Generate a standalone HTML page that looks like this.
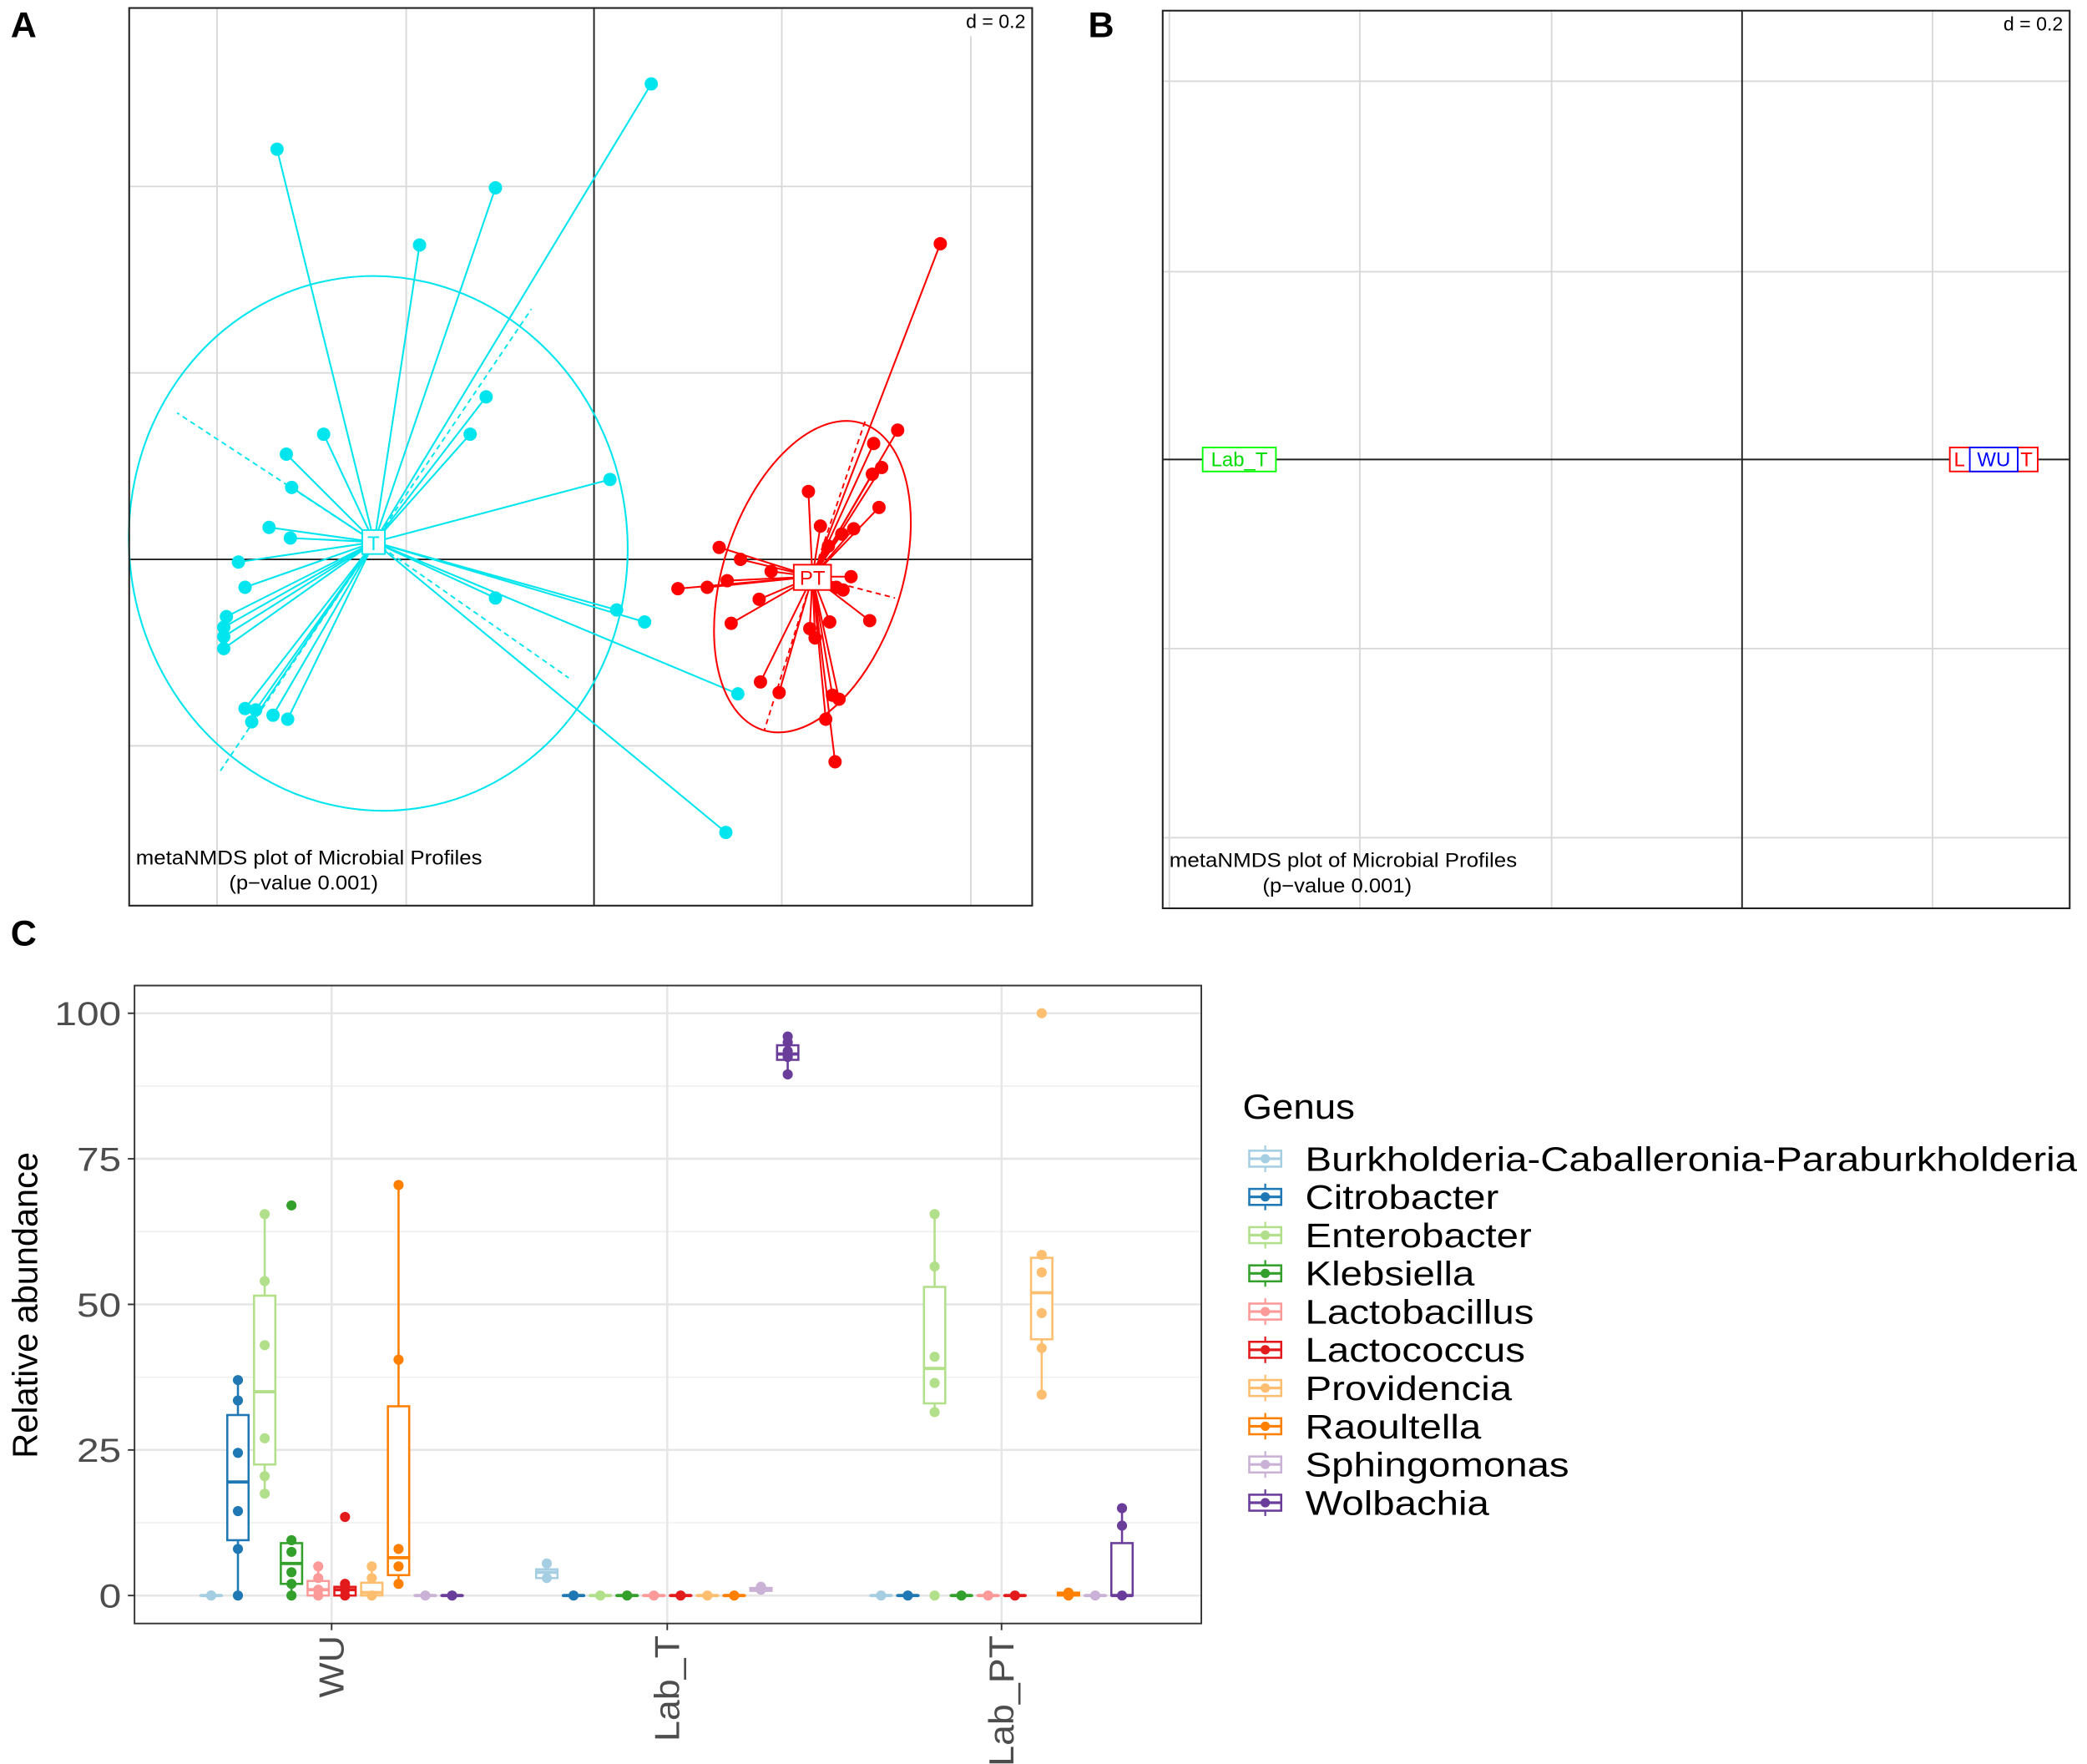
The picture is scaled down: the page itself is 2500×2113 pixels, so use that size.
<!DOCTYPE html>
<html><head><meta charset="utf-8"><style>
html,body{margin:0;padding:0;background:#fff;}
svg{display:block;font-family:"Liberation Sans",sans-serif;}
</style></head><body>
<svg id="fig" width="2500" height="2113" viewBox="0 0 1567 1324.5" preserveAspectRatio="none" xmlns="http://www.w3.org/2000/svg">
<text x="8" y="28" font-size="27" font-weight="bold">A</text>
<text x="817" y="28" font-size="27" font-weight="bold">B</text>
<text x="8" y="710" font-size="27" font-weight="bold">C</text>
<g id="pa"></g>
<g id="pb"></g>
<g id="pc"></g>
</svg>
<script>
// ---- Panel A data (display coords of ordination) ----
const cyanPts = [[489,63],[208,112],[372,141],[315,184],[365,298],[353,326],[243,326],[215,341],[219,366],[458,360],[202,396],[218,404],[179,422],[184,441],[372,449],[463,458],[484,467],[170,463],[168,471],[168,478],[168,487],[554,521],[184,532],[192,533],[189,542],[205,537],[216,540],[545,625]];
const cyanCentroid = [281,407];
const redPts = [[706,183],[674,323],[656,333],[662,351],[655,356],[641,397],[660,381],[632,401],[607,369],[622,410],[540,411],[556,420],[546,436],[509,442],[531,441],[579,429],[639,433],[628,441],[570,450],[549,468],[653,466],[623,467],[608,472],[612,479],[571,512],[585,520],[625,522],[630,525],[620,540],[627,572],[633,443],[616,395]];
const redCentroid = [610,433];

// ---- Panel C data ----
const genera = ["Burkholderia-Caballeronia-Paraburkholderia","Citrobacter","Enterobacter","Klebsiella","Lactobacillus","Lactococcus","Providencia","Raoultella","Sphingomonas","Wolbachia"];
const groups = ["WU","Lab_T","Lab_PT"];
const yTicks = [0,25,50,75,100];
// stats per group per genus: [whiskerLo, q1, median, q3, whiskerHi]
const statsWU = [[0,0,0,0,0],[0,9.5,19.5,31,37],[17.5,22.5,35,51.5,65.5],[0,2,5.5,9,9.5],[0,0,1,2.5,5],[0,0,1,1.5,2],[0,0,0.5,2.2,5],[2,3.5,6.5,32.5,70.5],[0,0,0,0,0],[0,0,0,0,0]];
const statsLabT = [[2.5,3,4,4.5,5.8],[0,0,0,0,0],[0,0,0,0,0],[0,0,0,0,0],[0,0,0,0,0],[0,0,0,0,0],[0,0,0,0,0],[0,0,0,0,0],[0.5,0.8,1,1.3,2],[89.5,92,93,94.5,96]];
const statsLabPT = [[0,0,0,0,0],[0,0,0,0,0],[31.5,33,39,53,65.5],[0,0,0,0,0],[0,0,0,0,0],[0,0,0,0,0],[34.5,44,52,58,58.5],[0,0,0.3,0.5,1],[0,0,0,0,0],[0,0,0,9,15]];
const ptsWU = [[0,0],[0,8,14.5,24.5,33.5,37],[17.5,20.5,27,43,54,65.5],[0,2,4,7.5,9.5,67],[0,1,3,5],[0,1,2,13.5],[0,3,5],[2,5,8,40.5,70.5],[0],[0]];
const ptsLabT = [[3,5.5],[0],[0],[0],[0],[0],[0],[0],[1,1.5],[89.5,92.5,93.5,95,96]];
const ptsLabPT = [[0],[0],[0,31.5,36.5,41,56.5,65.5],[0],[0],[0],[34.5,42.5,48.5,55.5,58.5,100],[0,0.5],[0],[0,12,15]];
const colors = ["#A6CEE3","#1F78B4","#B2DF8A","#33A02C","#FB9A99","#E31A1C","#FDBF6F","#FF7F00","#CAB2D6","#6A3D9A"];

const NS="http://www.w3.org/2000/svg";
function mk(parent,tag,attrs,text){const e=document.createElementNS(NS,tag);for(const k in attrs)e.setAttribute(k,attrs[k]);if(text!==undefined)e.textContent=text;parent.appendChild(e);return e;}

// ---------- Panel A ----------
const pa=document.getElementById('pa');
[163,305,587,729].forEach(x=>{const l=mk(pa,'line',{x1:x,y1:6,x2:x,y2:680,stroke:'#d9d9d9','stroke-width':1.2});});
[140,280,560].forEach(y=>{const l=mk(pa,'line',{x1:97,y1:y,x2:775,y2:y,stroke:'#d9d9d9','stroke-width':1.2});});
mk(pa,'line',{x1:446,y1:6,x2:446,y2:680,stroke:'#222','stroke-width':1.2});
mk(pa,'line',{x1:97,y1:420,x2:775,y2:420,stroke:'#222','stroke-width':1.2});
function drawGroup(g,pts,c,col,ell,dashes,name){
  const gg=mk(g,'g',{});
  
  
  const e=mk(gg,'ellipse',{cx:ell[0],cy:ell[1],rx:ell[2],ry:ell[3],transform:`rotate(${ell[4]} ${ell[0]} ${ell[1]})`,fill:'none',stroke:col,'stroke-width':1.3});
  
  
  dashes.forEach(d=>mk(gg,'line',{x1:c[0],y1:c[1],x2:d[0],y2:d[1],stroke:col,'stroke-width':1.2,'stroke-dasharray':'4,3'}));
  pts.forEach(p=>mk(gg,'line',{x1:c[0],y1:c[1],x2:p[0],y2:p[1],stroke:col,'stroke-width':1.3}));
  pts.forEach(p=>{const d=mk(gg,'circle',{cx:p[0],cy:p[1],r:5,fill:col});});
}
drawGroup(pa,cyanPts,cyanCentroid,'#00E5EE',[284,408,187,201,-8],[[133,310],[399,232],[164,581],[427,509]],'t');
drawGroup(pa,redPts,redCentroid,'#FF0000',[610,433,67,121,18],[[650,315],[574,548],[672,449]],'pt');
mk(pa,'rect',{x:272,y:398,width:17,height:18,fill:'#fff',stroke:'#00E5EE','stroke-width':1.2});
const tl=mk(pa,'text',{x:280.5,y:413,'font-size':15,fill:'#00E5EE','text-anchor':'middle'},'T');

mk(pa,'rect',{x:596,y:424,width:28,height:19,fill:'#fff',stroke:'#FF0000','stroke-width':1.2});
const pl=mk(pa,'text',{x:610,y:439,'font-size':15,fill:'#FF0000','text-anchor':'middle'},'PT');

mk(pa,'rect',{x:97,y:6,width:678,height:674,fill:'none',stroke:'#222','stroke-width':1.3});
mk(pa,'rect',{x:716,y:7,width:57,height:20,fill:'#fff'});
mk(pa,'text',{x:770,y:21,'font-size':14.5,'text-anchor':'end'},'d = 0.2');
mk(pa,'text',{x:102,y:649,'font-size':15,textLength:260,lengthAdjust:'spacingAndGlyphs'},'metaNMDS plot of Microbial Profiles');
mk(pa,'text',{x:172,y:668,'font-size':15,textLength:112,lengthAdjust:'spacingAndGlyphs'},'(p\u2212value 0.001)');

// ---------- Panel B ----------
const pb=document.getElementById('pb');
[878,1021,1165,1451].forEach(x=>mk(pb,'line',{x1:x,y1:8,x2:x,y2:682,stroke:'#d9d9d9','stroke-width':1.2}));
[61,204,487,629].forEach(y=>mk(pb,'line',{x1:873,y1:y,x2:1554,y2:y,stroke:'#d9d9d9','stroke-width':1.2}));
mk(pb,'line',{x1:1308,y1:8,x2:1308,y2:682,stroke:'#222','stroke-width':1.2});
mk(pb,'line',{x1:873,y1:345,x2:1554,y2:345,stroke:'#222','stroke-width':1.2});
mk(pb,'rect',{x:873,y:8,width:681,height:674,fill:'none',stroke:'#222','stroke-width':1.3});
mk(pb,'rect',{x:903,y:336,width:55,height:18,fill:'#fff',stroke:'#00FF00','stroke-width':1.2});
const lb=mk(pb,'text',{x:930.5,y:350,'font-size':15,fill:'#00DD00','text-anchor':'middle'},'Lab_T');

mk(pb,'rect',{x:1464,y:336,width:66,height:18,fill:'#fff',stroke:'#FF0000','stroke-width':1.2});
mk(pb,'text',{x:1467,y:350,'font-size':15,fill:'#FF0000'},'L');
mk(pb,'text',{x:1517,y:350,'font-size':15,fill:'#FF0000'},'T');
mk(pb,'rect',{x:1479,y:336,width:36,height:18,fill:'#fff',stroke:'#0000FF','stroke-width':1.2});
const wl=mk(pb,'text',{x:1497,y:350,'font-size':15,fill:'#0000FF','text-anchor':'middle'},'WU');

mk(pb,'rect',{x:1494,y:9,width:58,height:20,fill:'#fff'});
mk(pb,'text',{x:1549,y:23,'font-size':14.5,'text-anchor':'end'},'d = 0.2');
mk(pb,'text',{x:878,y:651,'font-size':15,textLength:261,lengthAdjust:'spacingAndGlyphs'},'metaNMDS plot of Microbial Profiles');
mk(pb,'text',{x:948,y:670,'font-size':15,textLength:112,lengthAdjust:'spacingAndGlyphs'},'(p\u2212value 0.001)');

// ---------- Panel C ----------
const pc=document.getElementById('pc');
const PL=101,PR=902,PT=740,PB=1219;
const yS=v=>1198-v*4.372;
const gX=[249,501,752];
const xS=(gi,k)=>gX[gi]+(k-4.5)*20.1;
[12.5,37.5,62.5,87.5].forEach(v=>mk(pc,'line',{x1:PL,y1:yS(v),x2:PR,y2:yS(v),stroke:'#efefef','stroke-width':1}));
yTicks.forEach(v=>{const l=mk(pc,'line',{x1:PL,y1:yS(v),x2:PR,y2:yS(v),stroke:'#e6e6e6','stroke-width':1.6});});
gX.forEach(x=>mk(pc,'line',{x1:x,y1:PT,x2:x,y2:PB,stroke:'#e6e6e6','stroke-width':1.6}));
const allStats=[statsWU,statsLabT,statsLabPT], allPts=[ptsWU,ptsLabT,ptsLabPT];
for(let gi=0;gi<3;gi++){for(let k=0;k<10;k++){
  const s=allStats[gi][k], c=colors[k], x=xS(gi,k), w=16;
  const g=mk(pc,'g',{});
  
  
  mk(g,'line',{x1:x,y1:yS(s[0]),x2:x,y2:yS(s[1]),stroke:c,'stroke-width':1.6});
  mk(g,'line',{x1:x,y1:yS(s[3]),x2:x,y2:yS(s[4]),stroke:c,'stroke-width':1.6});
  mk(g,'rect',{x:x-w/2,y:yS(s[3]),width:w,height:Math.max(0.1,yS(s[1])-yS(s[3])),fill:'#fff',stroke:c,'stroke-width':1.6});
  mk(g,'line',{x1:x-w/2,y1:yS(s[2]),x2:x+w/2,y2:yS(s[2]),stroke:c,'stroke-width':2.4});
  allPts[gi][k].forEach(v=>{const p=mk(g,'circle',{cx:x,cy:yS(v),r:3.8,fill:c});});
}}
mk(pc,'rect',{x:PL,y:PT,width:PR-PL,height:PB-PT,fill:'none',stroke:'#333','stroke-width':1.2});
yTicks.forEach(v=>{mk(pc,'line',{x1:PL-5,y1:yS(v),x2:PL,y2:yS(v),stroke:'#333','stroke-width':1.2});
  const t=mk(pc,'text',{x:0,y:0,'font-size':25,fill:'#4d4d4d','text-anchor':'end',transform:`translate(${PL-10},${yS(v)+9}) scale(1.2,1)`},String(v));
  });
groups.forEach((g,i)=>{mk(pc,'line',{x1:gX[i],y1:PB,x2:gX[i],y2:PB+5,stroke:'#333','stroke-width':1.2});
  const t=mk(pc,'text',{x:0,y:0,'font-size':26,fill:'#4d4d4d','text-anchor':'end',transform:`translate(${gX[i]+9},${PB+9}) rotate(-90) scale(1.08,1)`},g);
  });
const yt=mk(pc,'text',{x:0,y:0,'font-size':26,'text-anchor':'middle',transform:'translate(28,980) rotate(-90)'},'Relative abundance');

const lt=mk(pc,'text',{x:0,y:0,'font-size':26,transform:'translate(933,840) scale(1.1,1)'},'Genus');

genera.forEach((gname,k)=>{const y=870+k*28.7, c=colors[k];
  const g=mk(pc,'g',{});
  
  
  mk(g,'line',{x1:950,y1:y-10,x2:950,y2:y+10,stroke:c,'stroke-width':1.4});
  mk(g,'rect',{x:938,y:y-6,width:24,height:12,fill:'#fff',stroke:c,'stroke-width':1.6});
  mk(g,'line',{x1:938,y1:y,x2:962,y2:y,stroke:c,'stroke-width':2});
  mk(g,'circle',{cx:950,cy:y,r:3.5,fill:c});
  mk(g,'text',{x:0,y:0,'font-size':25.5,transform:`translate(980,${y+9}) scale(1.165,1)`},gname);
});
</script>
</body></html>
